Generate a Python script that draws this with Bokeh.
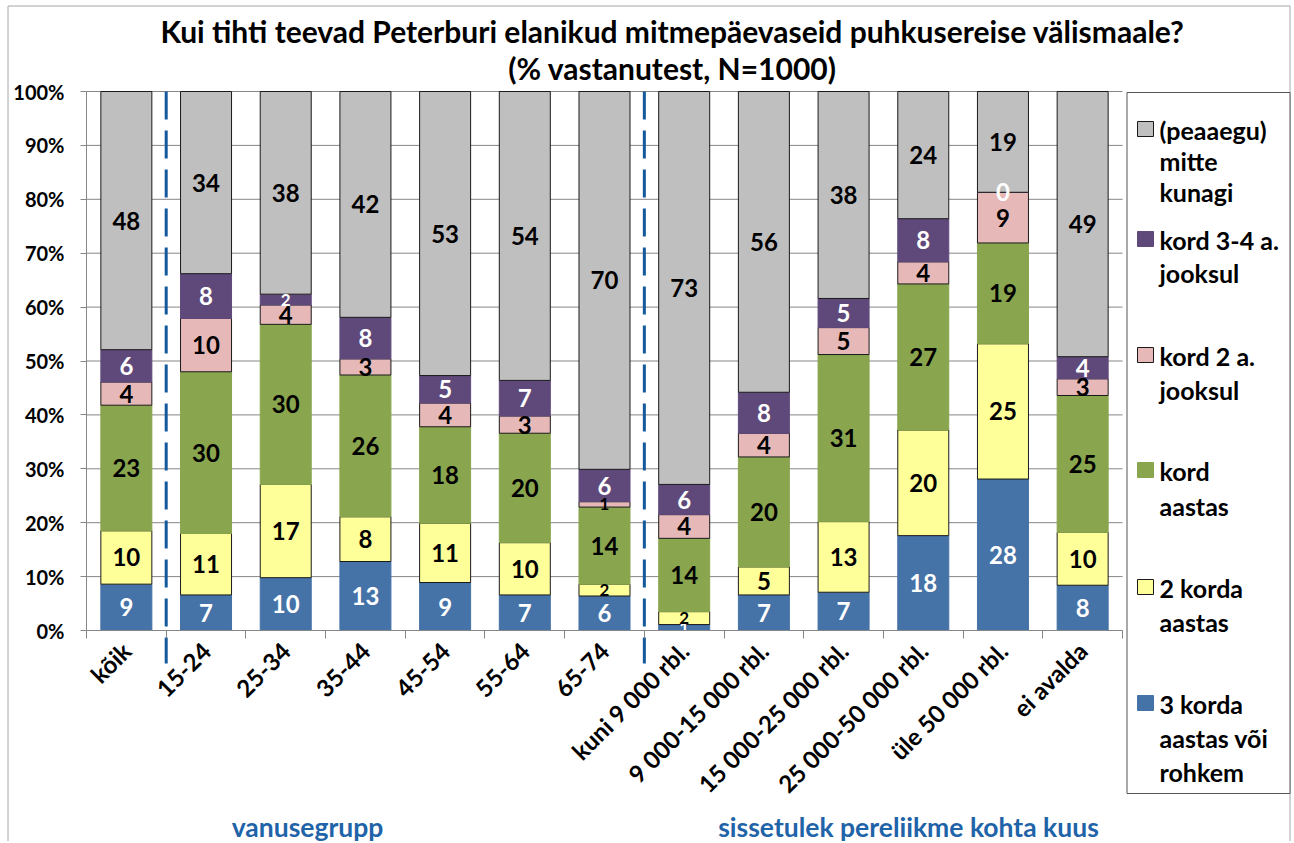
import math
from bokeh.plotting import figure
from bokeh.models import (ColumnDataSource, FixedTicker, PrintfTickFormatter, Range1d)
from bokeh.core.properties import value
from bokeh.embed import file_html
from bokeh.resources import INLINE

# ---------------- data ----------------
categories = ["kõik", "15-24", "25-34", "35-44", "45-54", "55-64", "65-74",
              "kuni 9 000 rbl.", "9 000-15 000 rbl.", "15 000-25 000 rbl.",
              "25 000-50 000 rbl.", "üle 50 000 rbl.", "ei avalda"]
group_sizes = [1, 6, 6]   # kõik | vanusegrupp | sissetulek

series_names = ["3 korda aastas või rohkem", "2 korda aastas", "kord aastas",
                "kord 2 a. jooksul", "kord 3-4 a. jooksul", "(peaaegu) mitte kunagi"]

v_3korda = [8.6, 6.6, 9.8, 12.8, 8.9, 6.6, 6.4, 1.1, 6.6, 7.1, 17.6, 28.1, 8.4]
v_2korda = [9.9, 11.4, 17.3, 8.3, 11.0, 9.7, 2.2, 2.4, 5.2, 13.1, 19.6, 25.1, 9.8]
v_kord_aastas = [23.3, 30.0, 29.7, 26.3, 17.9, 20.3, 14.3, 13.6, 20.4, 31.0, 27.1, 18.7, 25.4]
v_kord_2a = [4.3, 9.9, 3.6, 3.0, 4.4, 3.2, 1.0, 4.4, 4.4, 5.0, 4.1, 9.4, 3.1]
v_kord_34a = [6.0, 8.3, 2.0, 7.7, 5.1, 6.6, 6.0, 5.6, 7.6, 5.4, 8.0, 0.0, 4.1]
v_mitte = [47.9, 33.8, 37.6, 41.9, 52.7, 53.6, 70.1, 72.9, 55.8, 38.4, 23.6, 18.7, 49.2]

y_ticks = list(range(0, 101, 10))

title_lines = ["Kui tihti teevad Peterburi elanikud mitmepäevaseid puhkusereise välismaale?",
               "(% vastanutest, N=1000)"]
group_labels = ["vanusegrupp", "sissetulek pereliikme kohta kuus"]
legend_lines = [["(peaaegu)", "mitte", "kunagi"], ["kord 3-4 a.", "jooksul"],
                ["kord 2 a.", "jooksul"], ["kord", "aastas"], ["2 korda", "aastas"],
                ["3 korda", "aastas või", "rohkem"]]

# ---------------- styles / layout (pixels on the canvas) ----------------
FONT = "Lato"
fills = ["#4572A7", "#FFFF99", "#89A54E", "#E6B9B8", "#5F497A", "#BFBFBF"]
lines = ["#4572A7", "#1a1a1a", "#89A54E", "#1a1a1a", "#5F497A", "#1a1a1a"]
outlined = [False, True, False, True, False, True]
lab_colors = ["white", "black", "black", "black", "white", "black"]
GRID = "#868686"
SEP = "#14599B"
BLUE_TXT = "#1F63A8"

W, H = 1292, 841
PL, PR, PT, PB = 86, 1122, 91, 630        # plot area on the canvas
n = len(categories)
px_per_cat = (PR - PL) / n
px_per_pct = (PB - PT) / 100.0
x_start = -PL / px_per_cat
x_end = n + (W - PR) / px_per_cat
y_start = -(H - PB) / px_per_pct
y_end = 100 + PT / px_per_pct

series = [v_3korda, v_2korda, v_kord_aastas, v_kord_2a, v_kord_34a, v_mitte]
keys = ["s0", "s1", "s2", "s3", "s4", "s5"]

p = figure(width=W, height=H, x_range=Range1d(x_start, x_end), y_range=Range1d(y_start, y_end),
           output_backend="svg", toolbar_location=None, min_border=0,
           min_border_left=0, min_border_right=0, min_border_top=0, min_border_bottom=0)
p.extra_x_ranges = {"px": Range1d(0, W)}
p.extra_y_ranges = {"px": Range1d(H, 0)}
p.outline_line_color = None
p.background_fill_color = "white"
p.border_fill_color = "white"
p.xgrid.visible = False
p.ygrid.visible = False

# outer chart border
p.quad(left=[7.5], right=[1289.5], top=[5.5], bottom=[H + 10], x_range_name="px",
       y_range_name="px", fill_alpha=0, line_color="#a6a6a6", line_width=1)

# gridlines across the plot area only
p.segment(x0=[0] * len(y_ticks), x1=[n] * len(y_ticks), y0=y_ticks, y1=y_ticks,
          line_color=GRID, line_width=1)

xs = [i + 0.5 for i in range(n)]
data = {"x": xs}
for k, s in zip(keys, series):
    data[k] = s
src = ColumnDataSource(data)
p.vbar_stack(keys, x="x", width=0.64, source=src, fill_color=fills, line_color=lines,
             line_width=1)

# group separators (dashed), reaching below the axis
bounds = []
acc = 0
for g in group_sizes[:-1]:
    acc += g
    bounds.append(acc)
sep_low = -(663 - PB) / px_per_pct
p.segment(x0=bounds, y0=[100] * len(bounds), x1=bounds, y1=[sep_low] * len(bounds),
          line_color=SEP, line_width=3, line_dash="28 11")

# data labels
lx, ly, lt, lc, lf = [], [], [], [], []
for i in range(n):
    bottom = 0.0
    for j, s in enumerate(series):
        v = s[i]
        lx.append(xs[i])
        ly.append(bottom + v / 2)
        lt.append(str(int(v + 0.5)))
        lc.append(lab_colors[j])
        lf.append("17px" if 0 < v < 2.5 else "24px")
        bottom += v
lsrc = ColumnDataSource(dict(x=lx, y=ly, t=lt, c=lc, f=lf))
p.text(x="x", y="y", text="t", text_color="c", text_font_size="f", source=lsrc,
       text_font=value(FONT), text_font_style="bold", text_align="center",
       text_baseline="middle")

# ---------------- axes ----------------
xa = p.xaxis[0]
xa.fixed_location = 0
xa.bounds = (0, n)
xa.ticker = FixedTicker(ticks=xs, minor_ticks=list(range(n + 1)))
xa.major_label_overrides = {x: c for x, c in zip(xs, categories)}
xa.major_label_orientation = math.pi / 4
xa.major_tick_line_color = None
xa.major_tick_out = 0
xa.major_tick_in = 0
xa.minor_tick_out = 8
xa.minor_tick_in = 0
xa.minor_tick_line_color = GRID
xa.axis_line_color = GRID
xa.major_label_text_font = FONT
xa.major_label_text_font_style = "bold"
xa.major_label_text_font_size = "24px"
xa.major_label_text_color = "black"
xa.major_label_standoff = 8

ya = p.yaxis[0]
ya.fixed_location = 0
ya.bounds = (0, 100)
ya.ticker = FixedTicker(ticks=y_ticks)
ya.formatter = PrintfTickFormatter(format="%d%%")
ya.major_tick_out = 6
ya.major_tick_in = 0
ya.minor_tick_line_color = None
ya.major_tick_line_color = GRID
ya.axis_line_color = GRID
ya.major_label_text_font = FONT
ya.major_label_text_font_style = "bold"
ya.major_label_text_font_size = "20px"
ya.major_label_text_color = "black"
ya.major_label_standoff = 16

# ---------------- title and group labels (canvas pixels) ----------------
p.text(x=[672, 672], y=[30, 67], text=title_lines, x_range_name="px", y_range_name="px",
       text_font=value(FONT), text_font_style="bold", text_font_size="30px",
       text_align="center", text_baseline="middle", text_color="black")
p.text(x=[307, 908], y=[826, 826], text=group_labels, x_range_name="px", y_range_name="px",
       text_font=value(FONT), text_font_style="bold", text_font_size="26.5px",
       text_align="center", text_baseline="middle", text_color=BLUE_TXT)

# ---------------- legend (canvas pixels) ----------------
p.quad(left=[1126.5], right=[1289.5], top=[92], bottom=[793], x_range_name="px",
       y_range_name="px", fill_color="white", line_color="#555555", line_width=1)
entry_y = [129, 239, 355, 470, 587, 703]
line_steps = [31, 33, 34, 35, 34, 34]
order = [5, 4, 3, 2, 1, 0]
sq_l, sq_r, sq_t, sq_b, sq_f, sq_lc = [], [], [], [], [], []
tx, ty, tt = [], [], []
for k, j in enumerate(order):
    y0 = entry_y[k]
    sq_l.append(1137)
    sq_r.append(1153)
    sq_t.append(y0 - 8)
    sq_b.append(y0 + 7)
    sq_f.append(fills[j])
    sq_lc.append("#1a1a1a" if outlined[j] else fills[j])
    for m, t in enumerate(legend_lines[k]):
        tx.append(1159)
        ty.append(y0 + m * line_steps[k])
        tt.append(t)
p.quad(left=sq_l, right=sq_r, top=sq_t, bottom=sq_b, x_range_name="px", y_range_name="px",
       fill_color=sq_f, line_color=sq_lc, line_width=1)
p.text(x=tx, y=ty, text=tt, x_range_name="px", y_range_name="px", text_font=value(FONT),
       text_font_style="bold", text_font_size="25px", text_align="left",
       text_baseline="middle", text_color="black")

open("out.html", "w").write(file_html(p, INLINE))
